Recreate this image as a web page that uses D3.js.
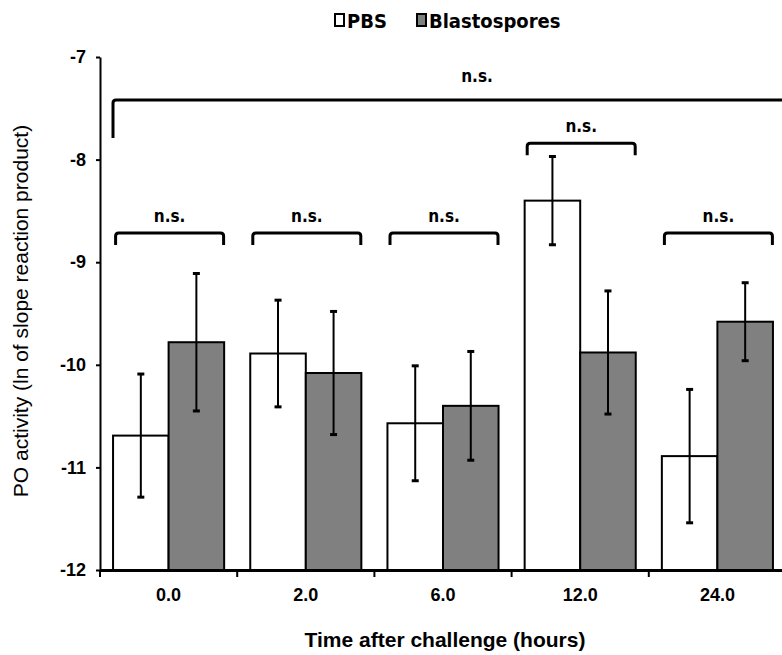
<!DOCTYPE html>
<html lang="en">
<head>
<meta charset="UTF-8">
<title>PO activity</title>
<script src="https://d3js.org/d3.v7.min.js"></script>
<style>
    body { margin: 0; background: #fff; }
    svg { display: block; }
    .tick-label { font-family: "Liberation Sans", Arial, sans-serif; font-weight: bold; font-size: 18px; }
    .ns { font-family: "DejaVu Sans Condensed", "DejaVu Sans", sans-serif; font-weight: bold; font-size: 17px; font-stretch: condensed; }
    .legend { font-family: "DejaVu Sans Condensed", "DejaVu Sans", sans-serif; font-weight: bold; font-size: 20px; }
</style>
</head>
<body>
<svg id="chart" width="782" height="655"></svg>
<script>
// data
const categories = ["0.0", "2.0", "6.0", "12.0", "24.0"];
const series = ["PBS", "Blastospores"];
const pbsMean = [-10.69, -9.89, -10.57, -8.40, -10.89];
const pbsErr = [0.60, 0.52, 0.56, 0.43, 0.65];
const blastoMean = [-9.78, -10.08, -10.40, -9.88, -9.58];
const blastoErr = [0.67, 0.60, 0.53, 0.60, 0.38];
const yTicks = [-7, -8, -9, -10, -11, -12];
// per-time brackets (y level in data units)
const bracketLevel = [-8.715, -8.715, -8.715, -7.84, -8.715];
const overallLevel = -7.42;

const fills = { "PBS": "#ffffff", "Blastospores": "#808080" };

const svg = d3.select("#chart");

const y = d3.scaleLinear().domain([-12, -7]).range([570, 57]);
const x0 = d3.scaleBand().domain(categories).range([100, 786]).padding(0);
const x1 = d3.scaleBand().domain(series).range([0, x0.bandwidth()])
    .paddingInner(0).paddingOuter(0.235);

const rows = categories.map((c, i) => ({
    cat: c,
    bars: [
        { s: "PBS", v: pbsMean[i], e: pbsErr[i] },
        { s: "Blastospores", v: blastoMean[i], e: blastoErr[i] }
    ]
}));

// bars
const grp = svg.append("g").selectAll("g")
    .data(rows)
    .join("g")
    .attr("transform", d => `translate(${x0(d.cat)},0)`);

grp.selectAll("rect")
    .data(d => d.bars)
    .join("rect")
    .attr("x", d => x1(d.s))
    .attr("y", d => y(d.v))
    .attr("width", x1.bandwidth())
    .attr("height", d => y(-12) - y(d.v))
    .attr("fill", d => fills[d.s])
    .attr("stroke", "#000")
    .attr("stroke-width", 2);

// error bars
grp.selectAll("line.err")
    .data(d => d.bars)
    .join("line")
    .attr("class", "err")
    .attr("x1", d => x1(d.s) + x1.bandwidth() / 2)
    .attr("x2", d => x1(d.s) + x1.bandwidth() / 2)
    .attr("y1", d => y(d.v + d.e))
    .attr("y2", d => y(d.v - d.e))
    .attr("stroke", "#000")
    .attr("stroke-width", 2);

["top", "bottom"].forEach(k => {
    grp.selectAll("line.cap-" + k)
        .data(d => d.bars)
        .join("line")
        .attr("class", "cap-" + k)
        .attr("x1", d => x1(d.s) + x1.bandwidth() / 2 - 3.5)
        .attr("x2", d => x1(d.s) + x1.bandwidth() / 2 + 3.5)
        .attr("y1", d => y(k === "top" ? d.v + d.e : d.v - d.e))
        .attr("y2", d => y(k === "top" ? d.v + d.e : d.v - d.e))
        .attr("stroke", "#000")
        .attr("stroke-width", 3);
});

// y axis
const yAxis = svg.append("g")
    .attr("transform", "translate(100,0)")
    .call(d3.axisLeft(y).tickValues(yTicks).tickSize(4).tickSizeOuter(0).tickFormat(d3.format("d")));
yAxis.select(".domain").attr("stroke-width", 2);
yAxis.selectAll(".tick line").attr("stroke-width", 2);
yAxis.selectAll(".tick text").attr("class", "tick-label").attr("x", -14).text(d => "-" + Math.abs(d));

// x axis
const xAxis = svg.append("g")
    .attr("transform", "translate(0,570)")
    .call(d3.axisBottom(x0).tickSize(0).tickSizeOuter(0));
xAxis.select(".domain").attr("stroke-width", 3);
xAxis.selectAll(".tick text").attr("class", "tick-label").attr("y", 18).attr("dy", "0.71em");
const bounds = categories.map(c => x0(c)).concat([x0(categories[categories.length - 1]) + x0.bandwidth()]);
xAxis.selectAll("line.bound")
    .data(bounds)
    .join("line")
    .attr("class", "bound")
    .attr("x1", d => d).attr("x2", d => d)
    .attr("y1", 0).attr("y2", 7)
    .attr("stroke", "#000")
    .attr("stroke-width", 2);

// brackets
function bracket(xa, xb, level, drop, label, ly) {
    const yy = y(level);
    const r = 3;
    svg.append("path")
        .attr("d", `M${xa},${yy + drop} L${xa},${yy + r} Q${xa},${yy} ${xa + r},${yy} L${xb - r},${yy} Q${xb},${yy} ${xb},${yy + r} L${xb},${yy + drop}`)
        .attr("fill", "none")
        .attr("stroke", "#000")
        .attr("stroke-width", 3);
    svg.append("text")
        .attr("class", "ns")
        .attr("x", (xa + xb) / 2)
        .attr("y", yy - ly)
        .attr("text-anchor", "middle")
        .text(label);
}

categories.forEach((c, i) => {
    const mid = x0(c) + x0.bandwidth() / 2;
    bracket(mid - 53, mid + 55, bracketLevel[i], 12, "n.s.", 11);
});
// overall bracket, runs off the right edge; label sits near the middle of the page
const yo = y(overallLevel);
svg.append("path")
    .attr("d", `M113,${yo + 38} L113,${yo + 3} Q113,${yo} 116,${yo} L900,${yo}`)
    .attr("fill", "none")
    .attr("stroke", "#000")
    .attr("stroke-width", 3);
svg.append("text")
    .attr("class", "ns")
    .attr("x", 477)
    .attr("y", yo - 18)
    .attr("text-anchor", "middle")
    .text("n.s.");

// legend
const legend = svg.append("g").attr("class", "legend");
const legendItems = [
    { s: "PBS", x: 335 },
    { s: "Blastospores", x: 417 }
];
legendItems.forEach(d => {
    legend.append("rect")
        .attr("x", d.x).attr("y", 14)
        .attr("width", 9).attr("height", 12)
        .attr("fill", fills[d.s])
        .attr("stroke", "#000")
        .attr("stroke-width", 2);
    legend.append("text")
        .attr("x", d.x + 12).attr("y", 28)
        .text(d.s);
});

// axis titles
svg.append("text")
    .attr("transform", "translate(28,311) rotate(-90)")
    .attr("text-anchor", "middle")
    .style("font-family", "Liberation Sans, Arial, sans-serif")
    .style("font-size", "21px")
    .text("PO activity (ln of slope reaction product)");

svg.append("text")
    .attr("x", 445).attr("y", 647)
    .attr("text-anchor", "middle")
    .style("font-family", "Liberation Sans, Arial, sans-serif")
    .style("font-weight", "bold")
    .style("font-size", "21px")
    .text("Time after challenge (hours)");
</script>
</body>
</html>
